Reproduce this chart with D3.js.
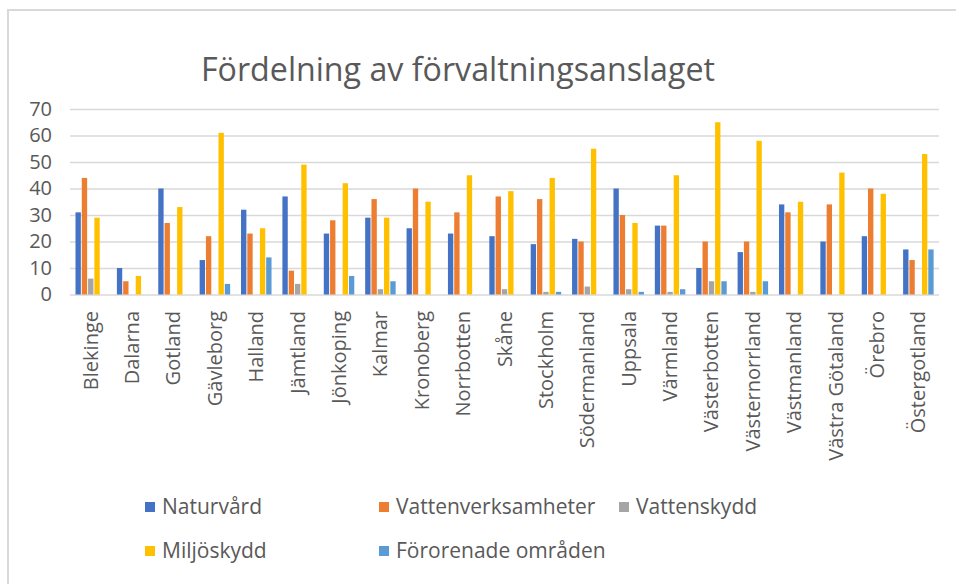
<!DOCTYPE html>
<html><head><meta charset="utf-8">
<script src="https://cdn.jsdelivr.net/npm/d3@7"></script>
<style>body{margin:0;background:#fff;} svg{display:block;}</style>
</head><body>
<svg id="chart" width="956" height="584"></svg>
<script>
const title = "Fördelning av förvaltningsanslaget";
const categories = ["Blekinge","Dalarna","Gotland","Gävleborg","Halland","Jämtland","Jönkoping","Kalmar","Kronoberg","Norrbotten","Skåne","Stockholm","Södermanland","Uppsala","Värmland","Västerbotten","Västernorrland","Västmanland","Västra Götaland","Örebro","Östergotland"];
const seriesNames = ["Naturvård","Vattenverksamheter","Vattenskydd","Miljöskydd","Förorenade områden"];
const naturvard          = [31,10,40,13,32,37,23,29,25,23,22,19,21,40,26,10,16,34,20,22,17];
const vattenverksamheter = [44, 5,27,22,23, 9,28,36,40,31,37,36,20,30,26,20,20,31,34,40,13];
const vattenskydd        = [ 6, 0, 0, 0, 0, 4, 0, 2, 0, 0, 2, 1, 3, 2, 1, 5, 1, 0, 0, 0, 0];
const miljoskydd         = [29, 7,33,61,25,49,42,29,35,45,39,44,55,27,45,65,58,35,46,38,53];
const fororenade         = [ 0, 0, 0, 4,14, 0, 7, 5, 0, 0, 0, 1, 0, 1, 2, 5, 5, 0, 0, 0,17];
const yTicks = [0,10,20,30,40,50,60,70];
const colors = ["#4472C4","#ED7D31","#A5A5A5","#FFC000","#5B9BD5"];

const seriesValues = [naturvard, vattenverksamheter, vattenskydd, miljoskydd, fororenade];
const svg = d3.select("#chart");
const textColor = "#595959";
const font = "'Open Sans', sans-serif";

// outer border
svg.append("rect").attr("x",8).attr("y",10).attr("width",1200).attr("height",1200)
  .attr("fill","none").attr("stroke","#d9d9d9").attr("stroke-width",2);

const x0 = d3.scaleBand().domain(categories).range([70, 939]).padding(0);
const x1 = d3.scaleBand().domain(seriesNames).range([5.5, 36]).paddingInner(0.15);
const y = d3.scaleLinear().domain([0, 70]).range([294.5, 109]);
const color = d3.scaleOrdinal().domain(seriesNames).range(colors);

// gridlines
const yAxis = d3.axisLeft(y).tickValues(yTicks).tickSize(-(939-70)).tickPadding(18).tickFormat(d3.format("d"));
const gy = svg.append("g").attr("transform","translate(70,0)").call(yAxis);
gy.select(".domain").remove();
gy.selectAll(".tick line").attr("stroke","#d9d9d9").attr("stroke-width",1.6);
gy.selectAll(".tick text").attr("fill",textColor).style("font-family",font).style("font-size","20px");

// bars
const groups = svg.append("g").selectAll("g").data(categories).join("g")
  .attr("transform", d => `translate(${x0(d)},0)`);
groups.selectAll("rect")
  .data((c, i) => seriesNames.map((s, j) => ({s, v: seriesValues[j][i]})))
  .join("rect")
  .attr("x", d => x1(d.s))
  .attr("width", x1.bandwidth())
  .attr("y", d => y(d.v))
  .attr("height", d => y(0) - y(d.v))
  .attr("fill", d => color(d.s));

// x axis labels
const xAxis = d3.axisBottom(x0).tickSize(0).tickPadding(0);
const gx = svg.append("g").attr("transform","translate(0,296)").call(xAxis);
gx.select(".domain").remove();
gx.selectAll(".tick text")
  .attr("transform","rotate(-90)")
  .attr("x",-15).attr("y",0).attr("dy","0.35em")
  .attr("text-anchor","end")
  .attr("fill",textColor).style("font-family",font).style("font-size","20px");

// title
svg.append("text").attr("x",458).attr("y",81).attr("text-anchor","middle")
  .attr("fill",textColor).style("font-family",font).style("font-size","32px")
  .attr("textLength",514).attr("lengthAdjust","spacingAndGlyphs")
  .text(title);

// legend
const legendPos = [[145,507],[379,507],[619,507],[145,551],[379,551]];
const lg = svg.append("g").selectAll("g").data(seriesNames).join("g")
  .attr("transform",(d,i)=>`translate(${legendPos[i][0]},${legendPos[i][1]})`);
lg.append("rect").attr("x",0).attr("y",-5).attr("width",10).attr("height",10).attr("fill",d=>color(d));
lg.append("text").attr("x",17).attr("y",0).attr("dy","0.35em")
  .attr("fill",textColor).style("font-family",font).style("font-size","21px").text(d=>d);
</script>
</body></html>
